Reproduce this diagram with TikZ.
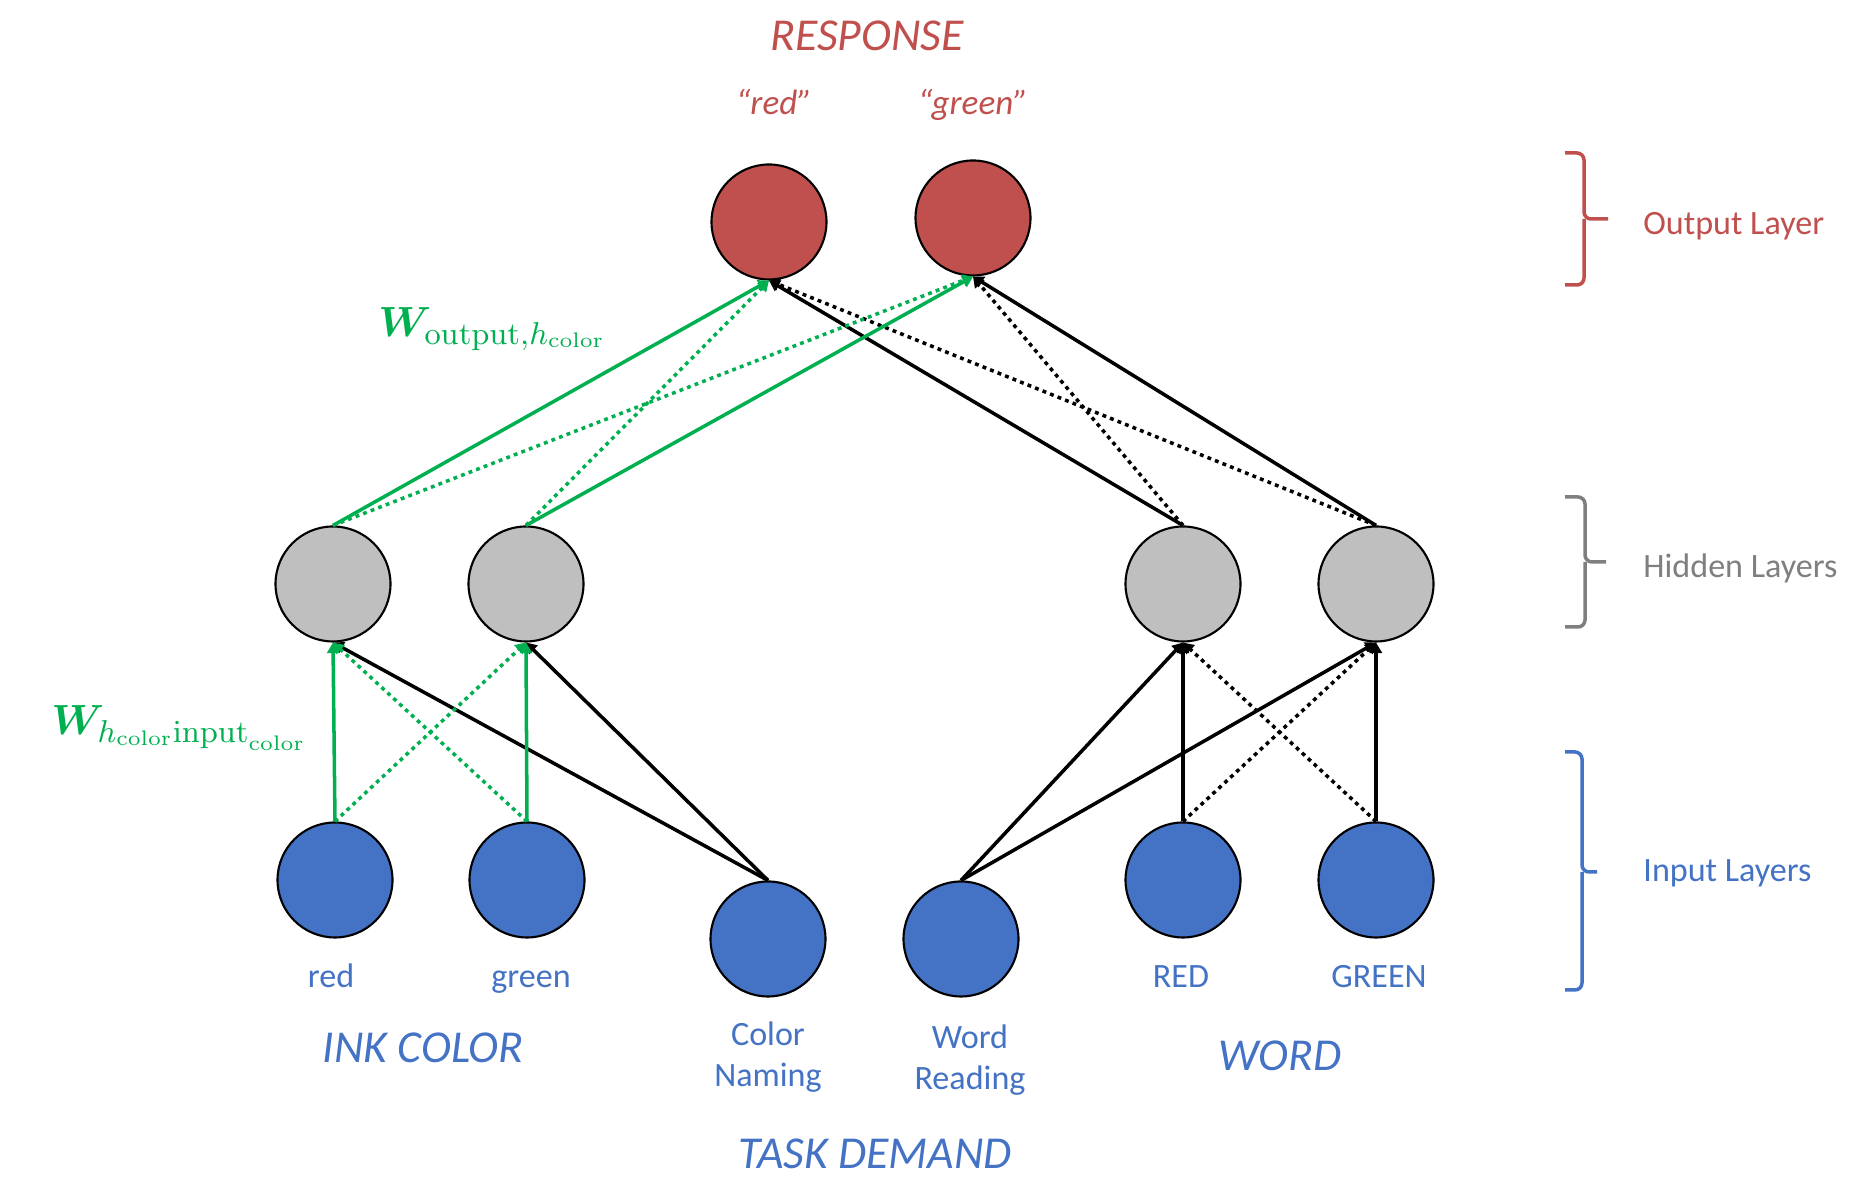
\documentclass[tikz,border=0pt]{standalone}
\usepackage[no-math]{fontspec}
\setmainfont{Carlito}
\usepackage{amsmath}
\usepackage{bm}
\usetikzlibrary{arrows.meta}

\definecolor{outred}{HTML}{C0504D}
\definecolor{inblue}{HTML}{4472C4}
\definecolor{hidgray}{HTML}{BFBFBF}
\definecolor{txtgray}{HTML}{7F7F7F}
\definecolor{wgreen}{HTML}{00B050}

\begin{document}
\begin{tikzpicture}[
  unit/.style={circle,draw=black,line width=0.6pt,minimum size=1.15cm,inner sep=0pt},
  inp/.style={unit,fill=inblue},
  hid/.style={unit,fill=hidgray},
  outp/.style={unit,fill=outred},
  lbl/.style={font=\fontsize{9.7}{11.7}\selectfont,text=inblue,align=center},
  lblone/.style={lbl,text height=1.55ex,text depth=0.45ex},
  quot/.style={font=\fontsize{10}{12}\selectfont\itshape,text=outred,text height=1.6ex,text depth=0.45ex},
  big/.style={font=\fontsize{13}{15}\selectfont\itshape},
  con/.style={line width=1pt,-{Triangle[length=3pt,width=3.4pt]}},
  dots/.style={con,dash pattern=on 1.1pt off 1.2pt},
  brc/.style={line width=1pt,rounded corners=2pt}
]
\useasboundingbox (0,0) rectangle (18.58,11.84);

% units
\node[outp] (ored) at (7.69,9.62) {};
\node[outp] (ogreen) at (9.73,9.66) {};
\node[hid] (hc1) at (3.33,6.00) {};
\node[hid] (hc2) at (5.26,6.00) {};
\node[hid] (hw1) at (11.83,6.00) {};
\node[hid] (hw2) at (13.76,6.00) {};
\node[inp] (ired) at (3.35,3.04) {};
\node[inp] (igreen) at (5.27,3.04) {};
\node[inp] (icn) at (7.68,2.45) {};
\node[inp] (iwr) at (9.61,2.45) {};
\node[inp] (iRED) at (11.83,3.04) {};
\node[inp] (iGREEN) at (13.76,3.04) {};

% input -> hidden
\draw[con,black] (icn.north) -- (hc1.south);
\draw[con,black] (icn.north) -- (hc2.south);
\draw[dots,wgreen] (ired.north) -- (hc2.south);
\draw[dots,wgreen] (igreen.north) -- (hc1.south);
\draw[con,wgreen] (ired.north) -- (hc1.south);
\draw[con,wgreen] (igreen.north) -- (hc2.south);
\draw[con,black] (iwr.north) -- (hw1.south);
\draw[con,black] (iwr.north) -- (hw2.south);
\draw[con,black] (iRED.north) -- (hw1.south);
\draw[dots,black] (iRED.north) -- (hw2.south);
\draw[con,black] (iGREEN.north) -- (hw2.south);
\draw[dots,black] (iGREEN.north) -- (hw1.south);

% hidden -> output
\draw[con,black] (hw1.north) -- (ored.south);
\draw[dots,black] (hw1.north) -- (ogreen.south);
\draw[con,black] (hw2.north) -- (ogreen.south);
\draw[dots,black] (hw2.north) -- (ored.south);
\draw[dots,wgreen] (hc1.north) -- (ogreen.south);
\draw[dots,wgreen] (hc2.north) -- (ored.south);
\draw[con,wgreen] (hc1.north) -- (ored.south);
\draw[con,wgreen] (hc2.north) -- (ogreen.south);

% texts
\node[big,text=outred] (resp) at (8.67,11.48) {RESPONSE};
\node[quot] (qred) at (7.74,10.79) {“red”};
\node[quot] (qgreen) at (9.73,10.79) {“green”};
\node[lblone] (lred) at (3.31,2.06) {red};
\node[lblone] (lgreen) at (5.31,2.06) {green};
\node[lblone] (lRED) at (11.81,2.06) {RED};
\node[lblone] (lGREEN) at (13.79,2.06) {GREEN};
\node[lbl] (lcn) at (7.68,1.27) {Color\\Naming};
\node[lbl] (lwr) at (9.70,1.24) {Word\\Reading};
\node[big,text=inblue] (ink) at (4.23,1.36) {INK COLOR};
\node[big,text=inblue] (word) at (12.80,1.28) {WORD};
\node[big,text=inblue] (task) at (8.75,0.30) {TASK DEMAND};
\node[text=wgreen,anchor=west,font=\fontsize{12.3}{14}\selectfont] (wout) at (3.66,8.55)
  {$\bm{W}_{\mathrm{output},h_{\mathrm{color}}}$};
\node[text=wgreen,anchor=west,font=\fontsize{12.3}{14}\selectfont] (win) at (0.39,4.56)
  {$\bm{W}_{h_{\mathrm{color}}\mathrm{input}_{\mathrm{color}}}$};

% layer braces
\draw[brc,outred] (15.65,10.31) -- (15.84,10.31) -- (15.84,9.65) -- (16.08,9.65);
\draw[brc,outred] (15.84,9.65) -- (15.84,8.99) -- (15.65,8.99);
\draw[brc,txtgray] (15.65,6.87) -- (15.85,6.87) -- (15.85,6.22) -- (16.06,6.22);
\draw[brc,txtgray] (15.85,6.22) -- (15.85,5.57) -- (15.65,5.57);
\draw[brc,inblue] (15.65,4.32) -- (15.82,4.32) -- (15.82,3.12) -- (15.97,3.12);
\draw[brc,inblue] (15.82,3.12) -- (15.82,1.94) -- (15.65,1.94);
\node[anchor=west,text=outred,font=\fontsize{9.7}{11.7}\selectfont] (lout) at (16.31,9.58) {Output Layer};
\node[anchor=west,text=txtgray,font=\fontsize{9.7}{11.7}\selectfont] (lhid) at (16.31,6.16) {Hidden Layers};
\node[anchor=west,text=inblue,font=\fontsize{9.7}{11.7}\selectfont] (lin) at (16.31,3.11) {Input Layers};
\end{tikzpicture}
\end{document}
